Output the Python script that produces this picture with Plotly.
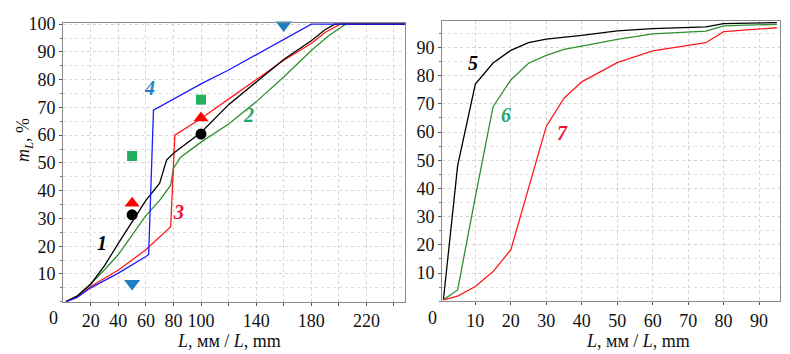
import plotly.graph_objects as go

# ---------- Left panel data ----------
L1 = [2, 10, 20, 30, 40, 50, 60, 70, 75, 80, 100, 120, 140, 160, 180, 190, 197, 248]
m1 = [0, 2, 6.3, 13, 21, 29, 36.5, 42.7, 51, 53.5, 61, 71, 79, 87.3, 94, 98, 100, 100]

L2 = [2, 10, 20, 30, 40, 50, 60, 70, 75, 78, 80, 85, 100, 120, 140, 160, 180, 193, 205, 248]
m2 = [0, 2, 6.5, 11.5, 17, 24, 31, 36.5, 40, 42, 48, 52, 57.5, 64, 72, 81, 90.5, 96, 100, 100]

L3 = [2, 10, 20, 40, 60, 78, 81, 100, 120, 140, 160, 180, 190, 201, 248]
m3 = [0, 1.5, 5.5, 11.4, 18.7, 27, 60, 66, 73, 80, 87, 93, 97, 100, 100]

L4 = [2, 10, 20, 40, 60, 62, 65.5, 80, 100, 120, 140, 160, 170, 180, 248]
m4 = [0, 1.5, 5, 10.3, 16.3, 17, 69, 73, 78.5, 83.5, 89, 94.5, 97, 100, 100]

sq_L, sq_m = [50, 100], [52.5, 72.8]
tri_L, tri_m = [50, 100], [35.5, 66.2]
dot_L, dot_m = [50, 100], [31.3, 60.4]
dn_L, dn_m = [50, 160], [6.6, 99.7]

# ---------- Right panel data ----------
R_L = [1, 5, 10, 15, 20, 25, 30, 35, 40, 50, 60, 75, 80, 95]
m5 = [0.5, 48, 77, 84.5, 89, 91.7, 93, 93.6, 94.3, 95.9, 96.7, 97.3, 98.5, 98.8]
m6 = [0.5, 4, 37, 69, 78.5, 84.4, 87.2, 89.3, 90.5, 92.9, 94.8, 95.8, 97.7, 98.2]
m7 = [0.5, 1.8, 5.2, 10.5, 18.2, 40, 62, 72, 77.8, 84.6, 88.8, 91.7, 95.6, 97]

left_xticks = [20, 40, 60, 80, 100, 120, 140, 160, 180, 200, 220, 240]
left_xtext = ["20", "40", "60", "80", "100", "", "140", "", "180", "", "220", ""]
left_yticks = [10, 20, 30, 40, 50, 60, 70, 80, 90, 100]
right_xticks = [10, 20, 30, 40, 50, 60, 70, 80, 90]
right_yticks = [10, 20, 30, 40, 50, 60, 70, 80, 90]

W, H = 790, 354
FONT = "Liberation Serif"
BLACK, GREEN, RED, BLUE = "#000000", "#2f8f2f", "#ff1a1a", "#1a1aff"

fig = go.Figure()

def line(x, y, color, xa, ya):
    fig.add_trace(go.Scatter(x=x, y=y, mode="lines", line=dict(color=color, width=1.3),
                             xaxis=xa, yaxis=ya, showlegend=False, hoverinfo="skip"))

line(L2, m2, GREEN, "x", "y")
line(L3, m3, RED, "x", "y")
line(L1, m1, BLACK, "x", "y")
line(L4, m4, BLUE, "x", "y")

def marks(x, y, sym, color, size):
    fig.add_trace(go.Scatter(x=x, y=y, mode="markers", cliponaxis=False,
                             marker=dict(symbol=sym, color=color, size=size, line=dict(width=0)),
                             xaxis="x", yaxis="y", showlegend=False, hoverinfo="skip"))

marks(sq_L, sq_m, "square", "#22b060", 10)
marks(tri_L, tri_m, "triangle-up", "#ff0000", 13)
marks(dot_L, dot_m, "circle", "#000000", 11)
marks(dn_L, dn_m, "triangle-down", "#1f7ec2", 14)

line(R_L, m5, BLACK, "x2", "y2")
line(R_L, m6, GREEN, "x2", "y2")
line(R_L, m7, RED, "x2", "y2")

ydom = [(H - 301.7) / H, (H - 22.5) / H]
ydom2 = [(H - 301.2) / H, (H - 21) / H]

axis_common = dict(showline=True, linecolor="#8a8a8a", linewidth=1, mirror=True,
                   ticks="outside", ticklen=3, tickcolor="#555555",
                   showgrid=True, gridcolor="#d4d4d4", griddash="dot", gridwidth=1,
                   zeroline=False, tickfont=dict(family=FONT, size=18, color="#111111"),
                   automargin=False)

fig.update_layout(
    width=W, height=H, margin=dict(l=0, r=0, t=0, b=0),
    font=dict(family=FONT, size=18, color="#111111"),
    paper_bgcolor="white", plot_bgcolor="white",
    xaxis=dict(domain=[63.2 / W, 405 / W], range=[0, 248], tickmode="array",
               tickvals=left_xticks, ticktext=left_xtext, anchor="y", **axis_common),
    yaxis=dict(domain=ydom, range=[0, 100.6], tickmode="array", tickvals=left_yticks,
               anchor="x",
               minor=dict(dtick=5, showgrid=True, gridcolor="#e0e0e0", griddash="dot",
                          ticks="outside", ticklen=2, tickcolor="#777777"),
               **axis_common),
    xaxis2=dict(domain=[442 / W, 780 / W], range=[0.6, 95.9], tickmode="array",
                tickvals=right_xticks, anchor="y2", **axis_common),
    yaxis2=dict(domain=ydom2, range=[0, 99.4], tickmode="array", tickvals=right_yticks,
                anchor="x2",
                minor=dict(dtick=5, showgrid=True, gridcolor="#e0e0e0", griddash="dot",
                           ticks="outside", ticklen=2, tickcolor="#777777"),
                **axis_common),
)

def lab(text, x, y, color, xref, yref):
    fig.add_annotation(text="<b><i>" + text + "</i></b>", x=x, y=y, xref=xref, yref=yref,
                       showarrow=False, xanchor="center", yanchor="middle",
                       font=dict(family=FONT, size=20, color=color))

lab("1", 27.9, 21.1, "#000000", "x", "y")
lab("2", 134.1, 67.4, "#22a868", "x", "y")
lab("3", 83.4, 32.5, "#ee1133", "x", "y")
lab("4", 62.9, 77, "#2a7fc4", "x", "y")
lab("5", 9.3, 84.4, "#000000", "x2", "y2")
lab("6", 18.7, 66, "#22a868", "x2", "y2")
lab("7", 34.6, 59.5, "#ee1133", "x2", "y2")

def ptxt(text, px, py, size=18, angle=0):
    fig.add_annotation(text=text, x=px / W, y=(H - py) / H, xref="paper", yref="paper",
                       showarrow=False, textangle=angle, xanchor="center", yanchor="middle",
                       font=dict(family=FONT, size=size, color="#111111"))

ptxt("0", 53, 318)
ptxt("0", 432, 318)
ptxt("<i>L</i>, мм / <i>L</i>, mm", 229, 341)
ptxt("<i>L</i>, мм / <i>L</i>, mm", 638, 341)
ptxt("<i>m</i><sub><i>L</i></sub>, %", 24, 140, angle=-90)

fig.write_html("out.html", config={"displayModeBar": False},
               post_script="document.body.style.margin='0';")
